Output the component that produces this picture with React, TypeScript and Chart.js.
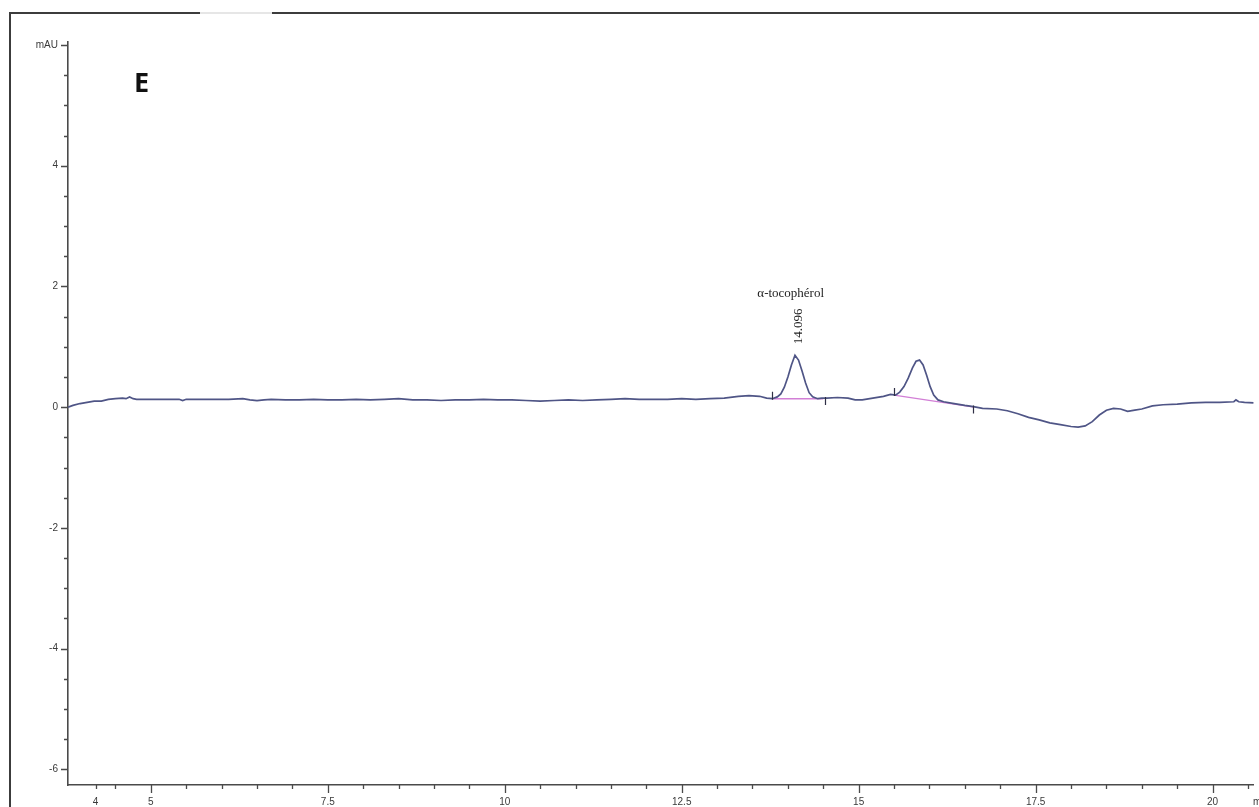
import React, { useEffect, useRef } from 'react';
import { Chart, registerables } from 'chart.js';

Chart.register(...registerables);

// ---- data ----
const traceTimes = [
  3.83, 3.9, 4.0, 4.1, 4.2, 4.3, 4.4, 4.5, 4.6, 4.65, 4.7, 4.75, 4.8, 4.9, 5.0,
  5.2, 5.4, 5.45, 5.5, 5.7, 5.9, 6.1, 6.3, 6.4, 6.5, 6.6, 6.7, 6.9, 7.1, 7.3,
  7.5, 7.7, 7.9, 8.1, 8.3, 8.5, 8.7, 8.9, 9.1, 9.3, 9.5, 9.7, 9.9, 10.1, 10.3,
  10.5, 10.7, 10.9, 11.1, 11.3, 11.5, 11.7, 11.9, 12.1, 12.3, 12.5, 12.7, 12.9, 13.1, 13.3,
  13.45, 13.6, 13.7, 13.78, 13.85, 13.9, 13.95, 14.0, 14.05, 14.1, 14.15, 14.2, 14.25, 14.3, 14.35,
  14.42, 14.48, 14.55, 14.7, 14.85, 14.95, 15.05, 15.2, 15.35, 15.45, 15.52, 15.58, 15.64, 15.7, 15.76,
  15.81, 15.86, 15.91, 15.96, 16.01, 16.06, 16.12, 16.2, 16.35, 16.5, 16.62, 16.75, 16.95, 17.1, 17.25,
  17.4, 17.55, 17.7, 17.85, 18.0, 18.1, 18.2, 18.3, 18.4, 18.5, 18.6, 18.7, 18.8, 18.9, 19.0,
  19.15, 19.3, 19.5, 19.7, 19.9, 20.1, 20.3, 20.33, 20.37, 20.45, 20.58,
];
const traceValues = [
  0.0, 0.03, 0.06, 0.08, 0.1, 0.1, 0.13, 0.14, 0.15, 0.14, 0.17, 0.14, 0.13, 0.13, 0.13,
  0.13, 0.13, 0.11, 0.13, 0.13, 0.13, 0.13, 0.14, 0.12, 0.11, 0.12, 0.13, 0.12, 0.12, 0.13,
  0.12, 0.12, 0.13, 0.12, 0.13, 0.14, 0.12, 0.12, 0.11, 0.12, 0.12, 0.13, 0.12, 0.12, 0.11,
  0.1, 0.11, 0.12, 0.11, 0.12, 0.13, 0.14, 0.13, 0.13, 0.13, 0.14, 0.13, 0.14, 0.15, 0.18,
  0.19, 0.18, 0.15, 0.14, 0.17, 0.22, 0.33, 0.5, 0.7, 0.86, 0.78, 0.6, 0.4, 0.24, 0.17,
  0.14, 0.15, 0.15, 0.16, 0.15, 0.12, 0.12, 0.15, 0.18, 0.21, 0.2, 0.25, 0.34, 0.48, 0.65,
  0.76, 0.78, 0.7, 0.53, 0.34, 0.2, 0.12, 0.09, 0.06, 0.03, 0.01, -0.02, -0.03, -0.06, -0.11,
  -0.17, -0.21, -0.26, -0.29, -0.32, -0.33, -0.31, -0.24, -0.13, -0.05, -0.02, -0.03, -0.07, -0.05, -0.03,
  0.02, 0.04, 0.05, 0.07, 0.08, 0.08, 0.09, 0.12, 0.09, 0.08, 0.07,
];

const baseline1Times = [13.78, 14.5];
const baseline1Values = [0.14, 0.14];
const baseline2Times = [15.5, 16.63];
const baseline2Values = [0.2, 0.0];

const markerTimes = [13.78, 14.52, 15.5, 16.62];
const markerValues = [0.14, 0.15, 0.2, 0.01];
const markerDirs = [1, -1, 1, -1];

const xMajorTicks = [5, 7.5, 10, 12.5, 15, 17.5, 20];
const xStartTick = 4.22;
const xStartLabel = '4';
const yMajorTicks = [-6, -4, -2, 0, 2, 4, 6];
const yMajorLabels = ['-6', '-4', '-2', '0', '2', '4', 'mAU'];

const peakName = 'α-tocophérol';
const peakTime = 14.096;
const peakTimeLabel = '14.096';
const peakValue = 0.86;
const panelLabel = 'E';
const xUnit = 'min';

const X_MIN = 3.83;
const X_MAX = 20.58;
const Y_MIN = -6.26;
const Y_MAX = 6.05;

const xMinorTicks: number[] = [];
for (let v = 4.5; v <= 20.5; v += 0.5) {
  if (!xMajorTicks.includes(v)) xMinorTicks.push(v);
}
const yMinorTicks: number[] = [];
for (let v = -6; v <= 6; v += 0.5) {
  if (!yMajorTicks.includes(v)) yMinorTicks.push(v);
}
const xAllTicks = [xStartTick, ...xMinorTicks, ...xMajorTicks].sort((a, b) => a - b);
const yAllTicks = [...yMinorTicks, ...yMajorTicks].sort((a, b) => a - b);

const AXIS_COLOR = '#4a4a4a';
const LABEL_COLOR = '#3a3a3a';
const TICK_FONT = { family: '"Liberation Sans", Arial, sans-serif', size: 10 };

const toXY = (ts: number[], vs: number[]) => ts.map((t, i) => ({ x: t, y: vs[i] }));

const decorPlugin = {
  id: 'decor',
  afterDraw(chart: any) {
    const { ctx, scales } = chart;
    const xs = scales.x;
    const ys = scales.y;
    ctx.save();

    // outer frame
    ctx.strokeStyle = '#3c3c3c';
    ctx.lineWidth = 2;
    ctx.beginPath();
    ctx.moveTo(10, 807);
    ctx.lineTo(10, 13);
    ctx.lineTo(200, 13);
    ctx.moveTo(272, 13);
    ctx.lineTo(1259, 13);
    ctx.stroke();
    ctx.strokeStyle = '#e6e6e6';
    ctx.beginPath();
    ctx.moveTo(200, 13);
    ctx.lineTo(272, 13);
    ctx.stroke();

    // axis ticks
    ctx.strokeStyle = AXIS_COLOR;
    ctx.lineWidth = 1.3;
    const bottom = ys.bottom;
    const left = xs.left;
    ctx.beginPath();
    xAllTicks.forEach((v) => {
      const px = Math.round(xs.getPixelForValue(v)) + 0.5;
      const len = xMajorTicks.includes(v) ? 8 : 4;
      ctx.moveTo(px, bottom);
      ctx.lineTo(px, bottom + len);
    });
    yAllTicks.forEach((v) => {
      const py = Math.round(ys.getPixelForValue(v)) + 0.5;
      const len = yMajorTicks.includes(v) ? 7 : 4;
      ctx.moveTo(left, py);
      ctx.lineTo(left - len, py);
    });
    ctx.stroke();

    // integration markers
    ctx.strokeStyle = '#2f2f45';
    ctx.lineWidth = 1.2;
    ctx.beginPath();
    markerTimes.forEach((t, i) => {
      const px = Math.round(xs.getPixelForValue(t)) + 0.5;
      const py = ys.getPixelForValue(markerValues[i]);
      ctx.moveTo(px, py + markerDirs[i] * 1);
      ctx.lineTo(px, py - markerDirs[i] * 7);
    });
    ctx.stroke();

    // peak annotation
    const ppx = xs.getPixelForValue(peakTime);
    const ppy = ys.getPixelForValue(peakValue);
    ctx.fillStyle = '#1e1e1e';
    ctx.font = '13px "Liberation Serif", "DejaVu Serif", serif';
    ctx.textAlign = 'center';
    ctx.textBaseline = 'alphabetic';
    ctx.fillText(peakName, ppx - 4, ppy - 58);
    ctx.save();
    ctx.translate(ppx + 4, ppy - 29);
    ctx.rotate(-Math.PI / 2);
    ctx.font = '13px "Liberation Serif", "DejaVu Serif", serif';
    ctx.textAlign = 'center';
    ctx.textBaseline = 'middle';
    ctx.fillText(peakTimeLabel, 0, 0);
    ctx.restore();

    // panel label
    ctx.fillStyle = '#111';
    ctx.font = 'bold 27px "Noto Sans", "Open Sans", sans-serif';
    ctx.textAlign = 'left';
    ctx.textBaseline = 'alphabetic';
    ctx.fillText(panelLabel, 134, 92);

    // x unit
    ctx.fillStyle = LABEL_COLOR;
    ctx.font = '10px "Liberation Sans", Arial, sans-serif';
    ctx.textAlign = 'left';
    ctx.textBaseline = 'middle';
    ctx.fillText(xUnit, 1253, 802);

    ctx.restore();
  },
};

export default function App() {
  const ref = useRef<HTMLCanvasElement>(null);

  useEffect(() => {
    document.body.style.margin = '0';
    const canvas = ref.current;
    if (!canvas) return;
    const chart = new Chart(canvas, {
      type: 'line',
      data: {
        datasets: [
          {
            label: 'trace',
            data: toXY(traceTimes, traceValues),
            borderColor: '#4f5586',
            borderWidth: 1.7,
            pointRadius: 0,
            tension: 0,
            fill: false,
          },
          {
            label: 'baseline1',
            data: toXY(baseline1Times, baseline1Values),
            borderColor: '#d27fd6',
            borderWidth: 1.4,
            pointRadius: 0,
            tension: 0,
            fill: false,
          },
          {
            label: 'baseline2',
            data: toXY(baseline2Times, baseline2Values),
            borderColor: '#d27fd6',
            borderWidth: 1.4,
            pointRadius: 0,
            tension: 0,
            fill: false,
          },
        ],
      },
      options: {
        responsive: false,
        animation: false,
        events: [],
        layout: { padding: { top: 42, left: 0, right: 0, bottom: 0 } },
        plugins: {
          legend: { display: false },
          tooltip: { enabled: false },
          title: { display: false },
        },
        scales: {
          x: {
            type: 'linear',
            position: 'bottom',
            min: X_MIN,
            max: X_MAX,
            afterFit: (s: any) => {
              s.height = 22;
            },
            afterBuildTicks: (s: any) => {
              s.ticks = xAllTicks.map((v) => ({ value: v }));
            },
            grid: { display: false, drawTicks: false },
            border: { display: true, color: AXIS_COLOR, width: 1.6 },
            ticks: {
              autoSkip: false,
              maxRotation: 0,
              minRotation: 0,
              padding: 11,
              color: LABEL_COLOR,
              font: TICK_FONT,
              callback: (value: any) => {
                const v = Number(value);
                if (v === xStartTick) return xStartLabel;
                return xMajorTicks.includes(v) ? String(v) : '';
              },
            },
          },
          y: {
            type: 'linear',
            position: 'left',
            min: Y_MIN,
            max: Y_MAX,
            afterFit: (s: any) => {
              s.width = 68;
            },
            afterBuildTicks: (s: any) => {
              s.ticks = yAllTicks.map((v) => ({ value: v }));
            },
            grid: { display: false, drawTicks: false },
            border: { display: true, color: AXIS_COLOR, width: 1.6 },
            ticks: {
              autoSkip: false,
              padding: 10,
              color: LABEL_COLOR,
              font: TICK_FONT,
              callback: (value: any) => {
                const v = Number(value);
                const i = yMajorTicks.indexOf(v);
                return i >= 0 ? yMajorLabels[i] : '';
              },
            },
          },
        },
      },
      plugins: [decorPlugin],
    });
    return () => chart.destroy();
  }, []);

  return (
    <div
      style={{
        position: 'fixed',
        left: 0,
        top: 0,
        width: 1259,
        height: 807,
        background: '#ffffff',
        overflow: 'hidden',
      }}
    >
      <canvas ref={ref} width={1259} height={807} style={{ display: 'block' }} />
    </div>
  );
}
